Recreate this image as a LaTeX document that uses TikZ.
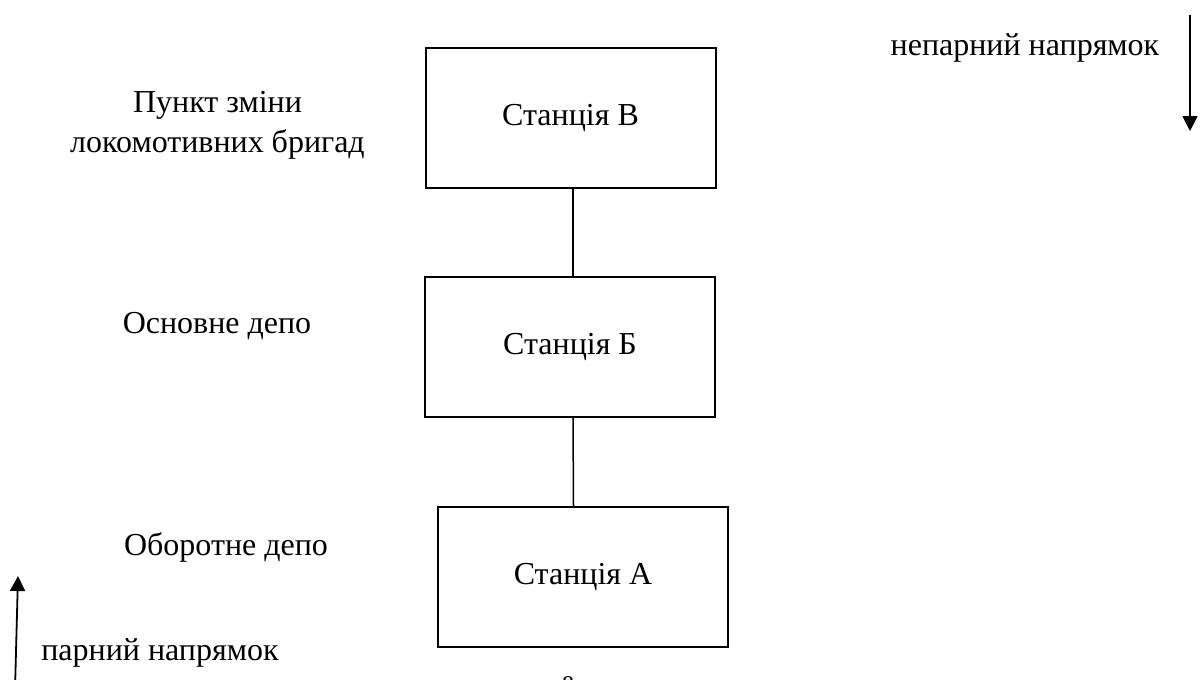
\documentclass[tikz,border=0pt]{standalone}
\usepackage{fontspec}
\setmainfont{Liberation Serif}
\usetikzlibrary{arrows.meta}
\begin{document}
\begin{tikzpicture}[x=0.5pt,y=-0.5pt,
  station/.style={draw, line width=1pt, minimum width=145pt, minimum height=70pt, inner sep=0pt, font=\fontsize{16}{20}\selectfont},
  label/.style={anchor=base, inner sep=0pt, align=center, font=\fontsize{16}{20}\selectfont},
  link/.style={line width=0.75pt},
  dir/.style={line width=0.9pt, -{Triangle[length=7.5pt,width=7.5pt]}}]
\useasboundingbox (0,0) rectangle (1200,680);
\node[station] (sV) at (570.5,117.5) {Станція В};
\node[station] (sB) at (570,347) {Станція Б};
\node[station] (sA) at (583,577) {Станція А};
\draw[link] ([xshift=1.25pt]sV.south) -- ([xshift=1.5pt]sB.north);
\draw[link] ([xshift=1.5pt]sB.south) -- ([xshift=-4.75pt]sA.north);
\node[label] (t1) at (217.5,152) {Пункт зміни\\локомотивних бригад};
\node[label] (t2) at (217,333) {Основне депо};
\node[label] (t3) at (226,555) {Оборотне депо};
\node[label] (t4) at (1025,55) {непарний напрямок};
\node[label] (t5) at (160,660) {парний напрямок};
\node[label, font=\fontsize{12}{14}\selectfont] (pg) at (568,692) {8};
\coordinate (r0) at (1190,15);
\coordinate (r1) at (1190,131);
\coordinate (l0) at (15,690);
\coordinate (l1) at (18,576);
\draw[dir] (r0) -- (r1);
\draw[dir] (l0) -- (l1);
\end{tikzpicture}
\end{document}
